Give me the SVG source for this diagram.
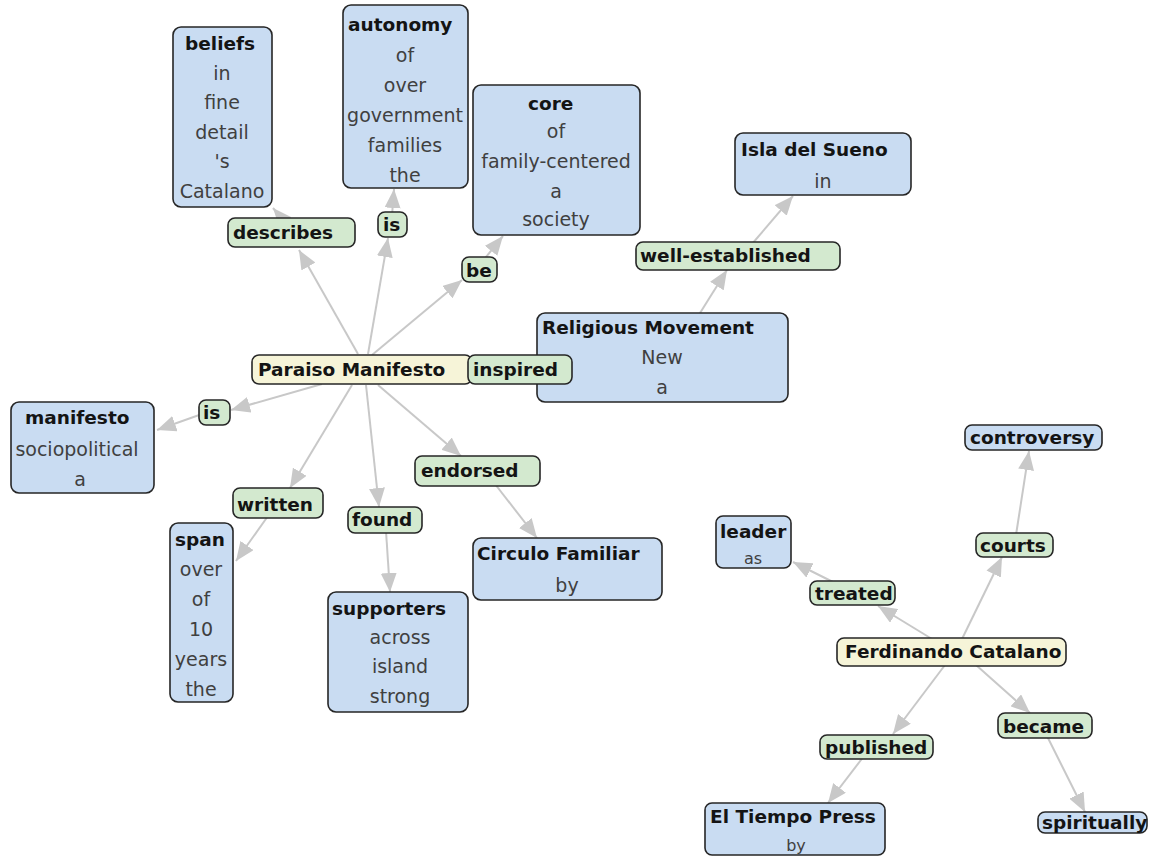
<svg xmlns="http://www.w3.org/2000/svg" width="1150" height="857" viewBox="0 0 1150 857">
  <style>
    .concept { fill: #c9dcf2; stroke: #262626; stroke-width: 1.6; }
    .link { fill: #d3e9cf; stroke: #262626; stroke-width: 1.6; }
    .root { fill: #f6f4d8; stroke: #262626; stroke-width: 1.6; }
    .t { font-family: "DejaVu Sans", Verdana, sans-serif; font-size: 19px; fill: #404040; text-anchor: middle; }
    .b { font-family: "DejaVu Sans", Verdana, sans-serif; font-size: 18.5px; font-weight: bold; fill: #141414; }
    .conn line { stroke: #c8c8c8; stroke-width: 2; marker-end: url(#arrow); }
  </style>
  <defs>
    <marker id="arrow" markerUnits="userSpaceOnUse" markerWidth="20" markerHeight="16" refX="19" refY="8" orient="auto">
      <path d="M0,0 L19,8 L0,16 Z" fill="#c8c8c8"/>
    </marker>
  </defs>
  <rect width="1150" height="857" fill="#ffffff"/>

  <!-- connectors -->
  <g id="connectors" class="conn">
    <line x1="358" y1="354" x2="299" y2="250"/>
    <line x1="285" y1="222" x2="273" y2="208"/>
    <line x1="368" y1="354" x2="388" y2="238"/>
    <line x1="392" y1="216" x2="394" y2="189"/>
    <line x1="372" y1="355" x2="462" y2="280"/>
    <line x1="482" y1="262" x2="503" y2="236"/>
    <line x1="700" y1="313" x2="727" y2="270"/>
    <line x1="752" y1="244" x2="793" y2="196"/>
    <line x1="322" y1="384" x2="231" y2="410"/>
    <line x1="202" y1="414" x2="157" y2="430"/>
    <line x1="352" y1="385" x2="290" y2="488"/>
    <line x1="268" y1="516" x2="236" y2="561"/>
    <line x1="366" y1="385" x2="379" y2="507"/>
    <line x1="386" y1="531" x2="390" y2="592"/>
    <line x1="378" y1="385" x2="461" y2="456"/>
    <line x1="495" y1="484" x2="537" y2="538"/>
    <line x1="932" y1="639" x2="878" y2="606"/>
    <line x1="835" y1="583" x2="793" y2="562"/>
    <line x1="962" y1="639" x2="1002" y2="557"/>
    <line x1="1016" y1="535" x2="1029" y2="451"/>
    <line x1="945" y1="665" x2="893" y2="734"/>
    <line x1="864" y1="756" x2="828" y2="803"/>
    <line x1="976" y1="665" x2="1030" y2="713"/>
    <line x1="1047" y1="736" x2="1085" y2="812"/>
  </g>

  <!-- concepts around the Paraiso Manifesto -->
  <g id="beliefs">
    <rect class="concept" x="173" y="27" width="99" height="180" rx="8"/>
    <text class="b" x="185" y="50">beliefs</text>
    <text class="t" x="222" y="80">in</text>
    <text class="t" x="222" y="109">fine</text>
    <text class="t" x="222" y="139">detail</text>
    <text class="t" x="222" y="168">'s</text>
    <text class="t" x="222" y="198">Catalano</text>
  </g>
  <g id="autonomy">
    <rect class="concept" x="343" y="5" width="125" height="183" rx="8"/>
    <text class="b" x="348" y="31">autonomy</text>
    <text class="t" x="405" y="62">of</text>
    <text class="t" x="405" y="92">over</text>
    <text class="t" x="405" y="122">government</text>
    <text class="t" x="405" y="152">families</text>
    <text class="t" x="405" y="182">the</text>
  </g>
  <g id="core">
    <rect class="concept" x="473" y="85" width="167" height="150" rx="8"/>
    <text class="b" x="528" y="110">core</text>
    <text class="t" x="556" y="138">of</text>
    <text class="t" x="556" y="168">family-centered</text>
    <text class="t" x="556" y="198">a</text>
    <text class="t" x="556" y="226">society</text>
  </g>
  <g id="isla-del-sueno">
    <rect class="concept" x="735" y="133" width="176" height="62" rx="8"/>
    <text class="b" x="741" y="156">Isla del Sueno</text>
    <text class="t" x="823" y="188">in</text>
  </g>
  <g id="religious-movement">
    <rect class="concept" x="537" y="313" width="251" height="89" rx="8"/>
    <text class="b" x="542" y="334">Religious Movement</text>
    <text class="t" x="662" y="364">New</text>
    <text class="t" x="662" y="394">a</text>
  </g>
  <g id="manifesto">
    <rect class="concept" x="11" y="402" width="143" height="91" rx="8"/>
    <text class="b" x="25" y="424">manifesto</text>
    <text class="t" x="77" y="456">sociopolitical</text>
    <text class="t" x="80" y="486">a</text>
  </g>
  <g id="span">
    <rect class="concept" x="170" y="523" width="63" height="179" rx="8"/>
    <text class="b" x="175" y="546">span</text>
    <text class="t" x="201" y="576">over</text>
    <text class="t" x="201" y="606">of</text>
    <text class="t" x="201" y="636">10</text>
    <text class="t" x="201" y="666">years</text>
    <text class="t" x="201" y="696">the</text>
  </g>
  <g id="supporters">
    <rect class="concept" x="328" y="592" width="140" height="120" rx="8"/>
    <text class="b" x="332" y="615">supporters</text>
    <text class="t" x="400" y="644">across</text>
    <text class="t" x="400" y="673">island</text>
    <text class="t" x="400" y="703">strong</text>
  </g>
  <g id="circulo-familiar">
    <rect class="concept" x="473" y="538" width="189" height="62" rx="8"/>
    <text class="b" x="477" y="560">Circulo Familiar</text>
    <text class="t" x="567" y="592">by</text>
  </g>

  <!-- linking phrases around the Paraiso Manifesto -->
  <g id="describes">
    <rect class="link" x="228" y="218" width="127" height="29" rx="7"/>
    <text class="b" x="233" y="239">describes</text>
  </g>
  <g id="is-autonomy">
    <rect class="link" x="378" y="212" width="29" height="25" rx="7"/>
    <text class="b" x="383" y="231">is</text>
  </g>
  <g id="be">
    <rect class="link" x="462" y="257" width="35" height="25" rx="7"/>
    <text class="b" x="466" y="277">be</text>
  </g>
  <g id="well-established">
    <rect class="link" x="636" y="242" width="204" height="28" rx="7"/>
    <text class="b" x="640" y="262">well-established</text>
  </g>
  <g id="is-manifesto">
    <rect class="link" x="199" y="400" width="31" height="25" rx="7"/>
    <text class="b" x="203" y="419">is</text>
  </g>
  <g id="written">
    <rect class="link" x="233" y="488" width="90" height="30" rx="7"/>
    <text class="b" x="237" y="511">written</text>
  </g>
  <g id="found">
    <rect class="link" x="348" y="507" width="74" height="26" rx="7"/>
    <text class="b" x="352" y="526">found</text>
  </g>
  <g id="endorsed">
    <rect class="link" x="415" y="456" width="125" height="30" rx="7"/>
    <text class="b" x="421" y="477">endorsed</text>
  </g>

  <!-- root concept -->
  <g id="paraiso-manifesto">
    <rect class="root" x="252" y="355" width="220" height="29" rx="7"/>
    <text class="b" x="258" y="376">Paraiso Manifesto</text>
  </g>
  <g id="inspired">
    <rect class="link" x="468" y="355" width="104" height="29" rx="7"/>
    <text class="b" x="473" y="376">inspired</text>
  </g>

  <!-- Ferdinando Catalano cluster -->
  <g id="controversy">
    <rect class="concept" x="965" y="425" width="137" height="25" rx="7"/>
    <text class="b" x="970" y="444">controversy</text>
  </g>
  <g id="leader">
    <rect class="concept" x="716" y="516" width="75" height="52" rx="7"/>
    <text class="b" x="720" y="538">leader</text>
    <text class="t" x="753" y="564" style="font-size:16px">as</text>
  </g>
  <g id="courts">
    <rect class="link" x="976" y="533" width="77" height="24" rx="7"/>
    <text class="b" x="980" y="552">courts</text>
  </g>
  <g id="treated">
    <rect class="link" x="810" y="581" width="85" height="24" rx="7"/>
    <text class="b" x="815" y="600">treated</text>
  </g>
  <g id="ferdinando-catalano">
    <rect class="root" x="837" y="638" width="229" height="28" rx="7"/>
    <text class="b" x="845" y="658">Ferdinando Catalano</text>
  </g>
  <g id="published">
    <rect class="link" x="820" y="735" width="113" height="24" rx="7"/>
    <text class="b" x="825" y="754">published</text>
  </g>
  <g id="became">
    <rect class="link" x="998" y="713" width="94" height="25" rx="7"/>
    <text class="b" x="1003" y="733">became</text>
  </g>
  <g id="el-tiempo-press">
    <rect class="concept" x="705" y="803" width="180" height="52" rx="7"/>
    <text class="b" x="710" y="823">El Tiempo Press</text>
    <text class="t" x="796" y="851" style="font-size:16px">by</text>
  </g>
  <g id="spirituality">
    <rect class="concept" x="1038" y="812" width="109" height="21" rx="7"/>
    <text class="b" x="1042" y="829">spiritually</text>
  </g>
</svg>
